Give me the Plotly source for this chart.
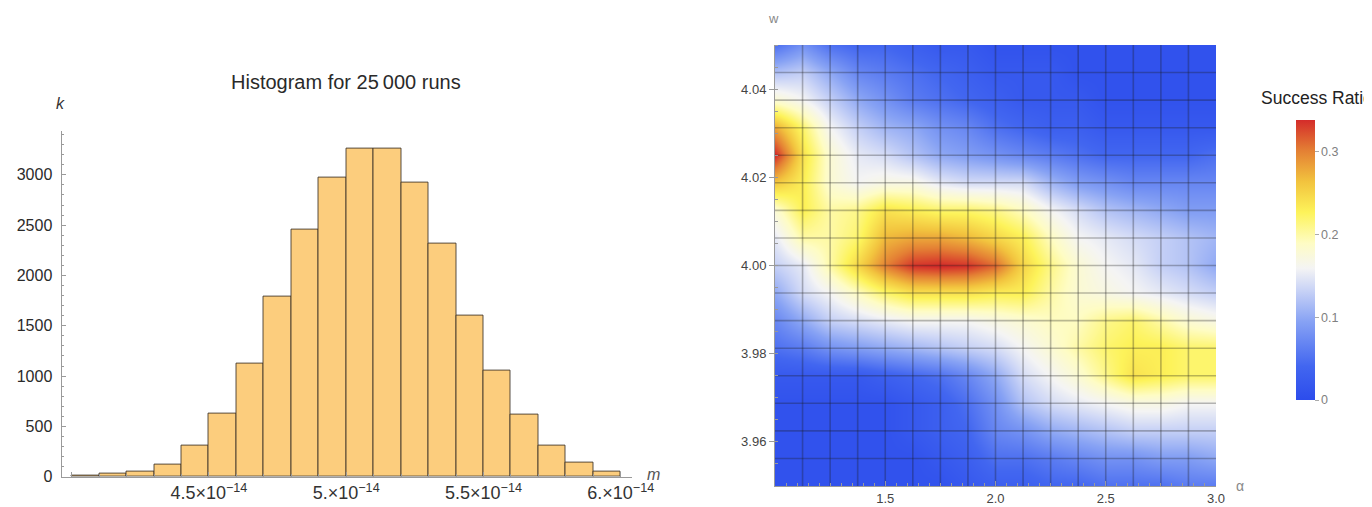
import plotly.graph_objects as go

# ---------------- Histogram data ----------------
bin_edges_m = [4.0e-14, 4.1e-14, 4.2e-14, 4.3e-14, 4.4e-14, 4.5e-14, 4.6e-14, 4.7e-14,
               4.8e-14, 4.9e-14, 5.0e-14, 5.1e-14, 5.2e-14, 5.3e-14, 5.4e-14, 5.5e-14,
               5.6e-14, 5.7e-14, 5.8e-14, 5.9e-14, 6.0e-14]
counts_k = [15, 27, 50, 123, 308, 626, 1120, 1786, 2452, 2972,
            3264, 3264, 2920, 2320, 1600, 1054, 613, 308, 143, 50]
hist_tickvals = [4.0e-14, 4.5e-14, 5.0e-14, 5.5e-14, 6.0e-14]
hist_ticktext = ["", "4.5\u00d710<sup>\u221214</sup>", "5.\u00d710<sup>\u221214</sup>",
                 "5.5\u00d710<sup>\u221214</sup>", "6.\u00d710<sup>\u221214</sup>"]
k_tickvals = [0, 500, 1000, 1500, 2000, 2500, 3000]

# ---------------- Density plot data ----------------
alpha_vals = [1.0, 1.125, 1.25, 1.375, 1.5, 1.625, 1.75, 1.875, 2.0,
              2.125, 2.25, 2.375, 2.5, 2.625, 2.75, 2.875, 3.0]
w_vals = [3.95, 3.95625, 3.9625, 3.96875, 3.975, 3.98125, 3.9875, 3.99375, 4.0,
          4.00625, 4.0125, 4.01875, 4.025, 4.03125, 4.0375, 4.04375, 4.05]
# rows: w (bottom -> top), columns: alpha (left -> right)
success_ratio = [
    [0.01, 0.01, 0.01, 0.01, 0.01, 0.01, 0.01, 0.02, 0.03, 0.03, 0.04, 0.04, 0.05, 0.05, 0.05, 0.06, 0.06],
    [0.01, 0.01, 0.01, 0.01, 0.01, 0.01, 0.02, 0.03, 0.05, 0.05, 0.06, 0.07, 0.08, 0.08, 0.09, 0.09, 0.10],
    [0.01, 0.01, 0.01, 0.01, 0.01, 0.02, 0.03, 0.04, 0.07, 0.08, 0.10, 0.11, 0.12, 0.13, 0.13, 0.13, 0.13],
    [0.01, 0.01, 0.01, 0.01, 0.01, 0.02, 0.03, 0.05, 0.08, 0.12, 0.14, 0.15, 0.16, 0.17, 0.17, 0.16, 0.16],
    [0.02, 0.02, 0.02, 0.02, 0.03, 0.04, 0.05, 0.07, 0.10, 0.14, 0.16, 0.18, 0.21, 0.24, 0.23, 0.22, 0.22],
    [0.05, 0.06, 0.08, 0.09, 0.10, 0.11, 0.12, 0.13, 0.14, 0.16, 0.18, 0.20, 0.22, 0.23, 0.23, 0.22, 0.22],
    [0.07, 0.10, 0.13, 0.14, 0.15, 0.16, 0.16, 0.16, 0.17, 0.18, 0.19, 0.19, 0.21, 0.22, 0.20, 0.18, 0.17],
    [0.10, 0.14, 0.16, 0.19, 0.22, 0.24, 0.24, 0.24, 0.23, 0.23, 0.20, 0.18, 0.17, 0.16, 0.15, 0.14, 0.13],
    [0.13, 0.15, 0.20, 0.25, 0.30, 0.335, 0.34, 0.335, 0.31, 0.25, 0.21, 0.18, 0.16, 0.15, 0.13, 0.12, 0.10],
    [0.15, 0.20, 0.20, 0.22, 0.27, 0.28, 0.28, 0.27, 0.25, 0.23, 0.19, 0.16, 0.15, 0.14, 0.13, 0.12, 0.11],
    [0.18, 0.23, 0.20, 0.21, 0.24, 0.23, 0.22, 0.22, 0.21, 0.19, 0.16, 0.14, 0.12, 0.11, 0.10, 0.09, 0.09],
    [0.26, 0.23, 0.18, 0.16, 0.17, 0.17, 0.15, 0.14, 0.14, 0.14, 0.11, 0.09, 0.08, 0.07, 0.07, 0.07, 0.07],
    [0.34, 0.24, 0.18, 0.15, 0.14, 0.12, 0.10, 0.09, 0.08, 0.07, 0.06, 0.05, 0.04, 0.04, 0.04, 0.04, 0.05],
    [0.28, 0.22, 0.16, 0.13, 0.11, 0.10, 0.08, 0.07, 0.05, 0.04, 0.03, 0.03, 0.02, 0.02, 0.02, 0.02, 0.02],
    [0.18, 0.16, 0.13, 0.10, 0.08, 0.06, 0.05, 0.04, 0.03, 0.02, 0.02, 0.02, 0.01, 0.01, 0.01, 0.01, 0.01],
    [0.12, 0.13, 0.10, 0.07, 0.06, 0.05, 0.04, 0.03, 0.02, 0.02, 0.02, 0.01, 0.01, 0.01, 0.01, 0.01, 0.01],
    [0.05, 0.08, 0.05, 0.04, 0.04, 0.03, 0.02, 0.02, 0.01, 0.01, 0.01, 0.01, 0.01, 0.01, 0.01, 0.01, 0.01],
]
alpha_tickvals = [1.5, 2.0, 2.5, 3.0]
w_tickvals = [3.96, 3.98, 4.00, 4.02, 4.04]
cbar_tickvals = [0, 0.1, 0.2, 0.3]
z_max = 0.338

FONT = "Liberation Sans, Arial, sans-serif"

# The page body has an 8px margin, so the figure is drawn at (8, 8) in the window.
OFF = 8
FIG_W, FIG_H = 1372 - OFF, 507 - OFF


def px_x(p):
    return (p - OFF) / FIG_W


def px_y(p):
    return (507 - p) / FIG_H


fig = go.Figure()

# Histogram bars
centers = [(bin_edges_m[i] + bin_edges_m[i + 1]) / 2 for i in range(len(counts_k))]
widths = [bin_edges_m[i + 1] - bin_edges_m[i] for i in range(len(counts_k))]
fig.add_trace(go.Bar(
    x=centers, y=counts_k, width=widths,
    marker=dict(color="rgb(252,205,125)",
                line=dict(color="rgba(60,50,40,0.85)", width=1)),
    xaxis="x", yaxis="y", showlegend=False, hoverinfo="x+y",
))

# Density plot
temp_scale = [
    [0.00, "rgb(44,76,236)"],
    [0.12, "rgb(66,102,240)"],
    [0.28, "rgb(135,162,244)"],
    [0.40, "rgb(205,214,246)"],
    [0.47, "rgb(244,244,244)"],
    [0.56, "rgb(254,252,196)"],
    [0.67, "rgb(253,243,90)"],
    [0.78, "rgb(242,195,62)"],
    [0.89, "rgb(228,128,52)"],
    [1.00, "rgb(212,44,42)"],
]
fig.add_trace(go.Heatmap(
    x=alpha_vals, y=w_vals, z=success_ratio,
    zmin=0, zmax=z_max, zsmooth="best", colorscale=temp_scale,
    xaxis="x2", yaxis="y2",
    colorbar=dict(
        x=px_x(1296), xanchor="left", xpad=0, y=px_y(260), yanchor="middle", ypad=0,
        thickness=19, lenmode="pixels", len=280, outlinewidth=0,
        tickvals=cbar_tickvals, ticktext=["0", "0.1", "0.2", "0.3"],
        ticks="outside", ticklen=4, tickcolor="#aaaaaa",
        tickfont=dict(family=FONT, size=12.5, color="#808080"),
    ),
))

# Mesh lines at data points
mx, my = [], []
for a in alpha_vals[1:-1]:
    mx += [a, a, None]
    my += [w_vals[0], w_vals[-1], None]
for w in w_vals[1:-1]:
    mx += [alpha_vals[0], alpha_vals[-1], None]
    my += [w, w, None]
fig.add_trace(go.Scatter(
    x=mx, y=my, mode="lines", xaxis="x2", yaxis="y2",
    line=dict(color="rgba(25,25,25,0.30)", width=1.6),
    hoverinfo="skip", showlegend=False,
))

axis_gray = "#9a9a9a"
fig.update_layout(
    width=FIG_W, height=FIG_H,
    margin=dict(l=0, r=0, t=0, b=0, autoexpand=False),
    paper_bgcolor="white", plot_bgcolor="white",
    font=dict(family=FONT, color="#333333"),
    bargap=0,
    xaxis=dict(
        domain=[px_x(61.5), px_x(631.7)], range=[3.963e-14, 6.040e-14], automargin=False,
        showline=True, linecolor=axis_gray, linewidth=1, showgrid=False, zeroline=False,
        tickvals=hist_tickvals, ticktext=hist_ticktext,
        ticks="inside", ticklen=5, tickcolor=axis_gray,
        minor=dict(ticks="inside", ticklen=2.5, dtick=1e-15, tickcolor=axis_gray, showgrid=False),
        tickfont=dict(family=FONT, size=18, color="#333333"),
    ),
    yaxis=dict(
        domain=[px_y(476.7), px_y(130.6)], range=[0, 3440], automargin=False,
        showline=True, linecolor=axis_gray, linewidth=1, showgrid=False, zeroline=False,
        tickvals=k_tickvals, ticks="inside", ticklen=4, tickcolor=axis_gray,
        minor=dict(ticks="inside", ticklen=2, dtick=100, tickcolor=axis_gray, showgrid=False),
        tickfont=dict(family=FONT, size=16, color="#2a2a2a"),
        ticklabelstandoff=5,
    ),
    xaxis2=dict(
        domain=[px_x(775), px_x(1216)], range=[1.0, 3.0], anchor="y2", automargin=False,
        showline=True, linecolor=axis_gray, linewidth=1, showgrid=False, zeroline=False,
        tickvals=alpha_tickvals, ticktext=["1.5", "2.0", "2.5", "3.0"],
        ticks="inside", ticklen=5, tickcolor=axis_gray,
        minor=dict(ticks="inside", ticklen=3, dtick=0.05, tickcolor=axis_gray, showgrid=False),
        tickfont=dict(family=FONT, size=13, color="#444444"),
    ),
    yaxis2=dict(
        domain=[px_y(486), px_y(45)], range=[3.95, 4.05], anchor="x2", automargin=False,
        showline=True, linecolor=axis_gray, linewidth=1, showgrid=False, zeroline=False,
        tickvals=w_tickvals, ticktext=["3.96", "3.98", "4.00", "4.02", "4.04"],
        ticks="outside", ticklen=5, tickcolor=axis_gray,
        minor=dict(ticks="inside", ticklen=3, dtick=0.005, tickcolor=axis_gray, showgrid=False),
        tickfont=dict(family=FONT, size=13, color="#444444"),
    ),
    annotations=[
        dict(text="Histogram for 25\u2009000 runs", xref="paper", yref="paper",
             x=px_x(346), y=px_y(82), xanchor="center", yanchor="middle",
             showarrow=False, font=dict(family=FONT, size=20, color="#2a2a2a")),
        dict(text="<i>k</i>", xref="paper", yref="paper",
             x=px_x(60), y=px_y(104), xanchor="center", yanchor="middle",
             showarrow=False, font=dict(family=FONT, size=16, color="#333333")),
        dict(text="<i>m</i>", xref="paper", yref="paper",
             x=px_x(653), y=px_y(474), xanchor="center", yanchor="middle",
             showarrow=False, font=dict(family=FONT, size=16, color="#555555")),
        dict(text="w", xref="paper", yref="paper",
             x=px_x(774), y=px_y(18), xanchor="center", yanchor="middle",
             showarrow=False, font=dict(family=FONT, size=13, color="#888888")),
        dict(text="\u03b1", xref="paper", yref="paper",
             x=px_x(1240), y=px_y(486), xanchor="center", yanchor="middle",
             showarrow=False, font=dict(family=FONT, size=14, color="#888888")),
        dict(text="Success Ratio", xref="paper", yref="paper",
             x=px_x(1259), y=px_y(98), xanchor="left", yanchor="middle",
             showarrow=False, font=dict(family=FONT, size=17.5, color="#222222")),
    ],
)

fig.write_html("out.html")
